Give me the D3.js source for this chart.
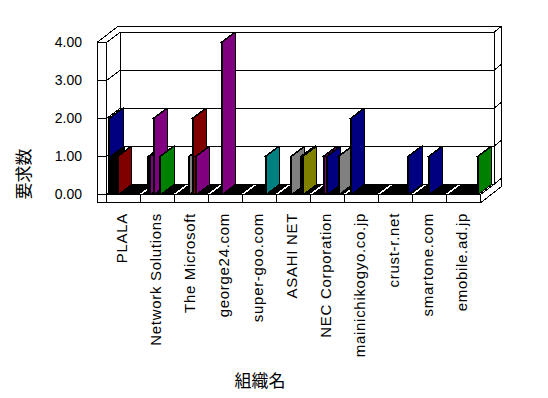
<!DOCTYPE html>
<html>
<head>
<meta charset="utf-8">
<script src="https://cdn.jsdelivr.net/npm/d3@7"></script>
<style>
  body { margin: 0; background: #fff; }
  svg { display: block; }
  text { font-family: "Liberation Sans", Arial, sans-serif; fill: #000; }
  .jp { font-family: "Noto Sans CJK JP", sans-serif; }
</style>
</head>
<body>
<div id="chart"></div>
<script>
// data
const categories = ["PLALA", "Network Solutions", "The Microsoft", "george24.com", "super-goo.com",
  "ASAHI NET", "NEC Corporation", "mainichikogyo.co.jp", "crust-r.net", "smartone.com", "emobile.ad.jp"];

const seriesColors = ["#000080", "#000000", "#000080", "#000080", "#800080", "#800000",
  "#800080", "#808080", "#000080", "#800000", "#008000", "#800080",
  "#008080", "#000000", "#808000", "#808080", "#000080", "#008000"];

// one row per series, one value per category
const seriesValues = [
  [2, 0, 0, 0, 0, 0, 0, 0, 0, 0, 0],
  [1, 0, 0, 0, 0, 0, 0, 0, 0, 0, 0],
  [0, 0, 0, 0, 0, 0, 0, 2, 0, 0, 0],
  [0, 1, 0, 0, 0, 0, 0, 0, 0, 0, 0],
  [0, 1, 0, 0, 0, 0, 0, 0, 0, 0, 0],
  [1, 0, 0, 0, 0, 0, 0, 0, 0, 0, 0],
  [0, 2, 0, 4, 0, 0, 1, 0, 0, 0, 0],
  [0, 0, 1, 0, 0, 1, 0, 0, 0, 0, 0],
  [0, 0, 0, 0, 0, 0, 1, 0, 0, 1, 0],
  [0, 0, 2, 0, 0, 0, 0, 0, 0, 0, 0],
  [0, 1, 0, 0, 0, 0, 0, 0, 0, 0, 0],
  [0, 0, 1, 0, 0, 0, 0, 0, 0, 0, 0],
  [0, 0, 0, 0, 1, 0, 0, 0, 0, 0, 0],
  [0, 0, 0, 0, 0, 1, 0, 0, 0, 0, 0],
  [0, 0, 0, 0, 0, 1, 0, 0, 0, 0, 0],
  [0, 0, 0, 0, 0, 0, 1, 0, 0, 0, 0],
  [0, 0, 0, 0, 0, 0, 0, 0, 1, 0, 0],
  [0, 0, 0, 0, 0, 0, 0, 0, 0, 0, 1]
];

const yTicks = [0, 1, 2, 3, 4];
const yTitle = "要求数";
const xTitle = "組織名";

const W = 548, H = 398;
const LS = 97.3;          // left slab outer edge
const FB = 202.7;         // floor bottom
const BX = 13.3, BY = -10;   // depth of plot
const OX = 21, OY = -16.3;   // depth incl. wall thickness

const svg = d3.select("#chart").append("svg")
  .attr("width", W).attr("height", H)
  .attr("shape-rendering", "crispEdges");

const x0 = d3.scaleBand().domain(categories).range([106.7, 480.7])
  .paddingInner(0.112).paddingOuter(0.056);
const x1 = d3.scaleBand().domain(d3.range(seriesValues.length)).range([0, x0.bandwidth()])
  .paddingInner(0.4).paddingOuter(0.2);
const y = d3.scaleLinear().domain([0, 4]).range([194.3, 42.3]);

const L = x0.range()[0], R = x0.range()[1];
const step = x0.step();

const lines = svg.append("g").attr("stroke", "#000").attr("stroke-width", 1).attr("fill", "none");
function line(a, b, c, d) {
  lines.append("line").attr("x1", a).attr("y1", b).attr("x2", c).attr("y2", d);
}

// back wall + walls
yTicks.forEach(t => {
  line(L + BX, y(t) + BY, R + BX, y(t) + BY);
  line(L, y(t), L + BX, y(t) + BY);
  line(R + BX, y(t) + BY, R + OX, y(t) + OY);
  line(LS, y(t), L, y(t));
});
line(L + BX, y(4) + BY, L + BX, y(0) + BY);
line(R + BX, y(4) + BY, R + BX, y(0) + BY);
line(LS + OX, y(4) + OY, R + OX, y(4) + OY);
line(LS, y(4), LS + OX, y(4) + OY);
line(R + OX, y(4) + OY, R + OX, FB + OY);
line(R, y(0), R + BX, y(0) + BY);
line(R, FB, R + OX, FB + OY);
// left slab
line(LS, y(4), LS, FB);
line(L, y(4), L, FB);
// floor front
line(L, y(0), R, y(0));
line(LS, FB, R, FB);
line(R, y(0), R, FB);
d3.range(1, categories.length).forEach(i => line(L + i * step, y(0), L + i * step, FB));

// bars
const bars = svg.append("g").attr("stroke", "#000").attr("stroke-width", 1);
const w = x1.bandwidth();
categories.forEach((c, ci) => {
  seriesValues.forEach((vals, si) => {
    const v = vals[ci];
    const xa = x0(c) + x1(si), xb = xa + w;
    const yb = y(0), yt = y(v);
    bars.append("polygon")
      .attr("points", [[xb, yb], [xb + BX, yb + BY], [xb + BX, yt + BY], [xb, yt]].join(" "))
      .attr("fill", seriesColors[si]);
    if (v > 0) {
      bars.append("rect").attr("x", xa).attr("y", yt).attr("width", w).attr("height", yb - yt)
        .attr("fill", "#000");
    }
    bars.append("polygon")
      .attr("points", [[xa, yt], [xb, yt], [xb + BX, yt + BY], [xa + BX, yt + BY]].join(" "))
      .attr("fill", "#000");
  });
});

// y tick labels
svg.append("g").selectAll("text").data(yTicks).join("text")
  .attr("x", 82).attr("y", d => y(d)).attr("dy", "0.36em")
  .attr("text-anchor", "end").attr("font-size", 14)
  .text(d3.format(".2f"));

// category labels
svg.append("g").selectAll("text").data(categories).join("text")
  .attr("transform", d => `translate(${x0(d) + x0.bandwidth() / 2 + 3},213) rotate(-90)`)
  .attr("text-anchor", "end").attr("font-size", 15).attr("letter-spacing", 0.7)
  .text(d => d);

// axis titles
svg.append("text").attr("class", "jp")
  .attr("transform", "translate(30,174) rotate(-90)")
  .attr("text-anchor", "middle").attr("font-size", 17)
  .text(yTitle);
svg.append("text").attr("class", "jp")
  .attr("x", 260).attr("y", 387)
  .attr("text-anchor", "middle").attr("font-size", 17)
  .text(xTitle);
</script>
</body>
</html>
